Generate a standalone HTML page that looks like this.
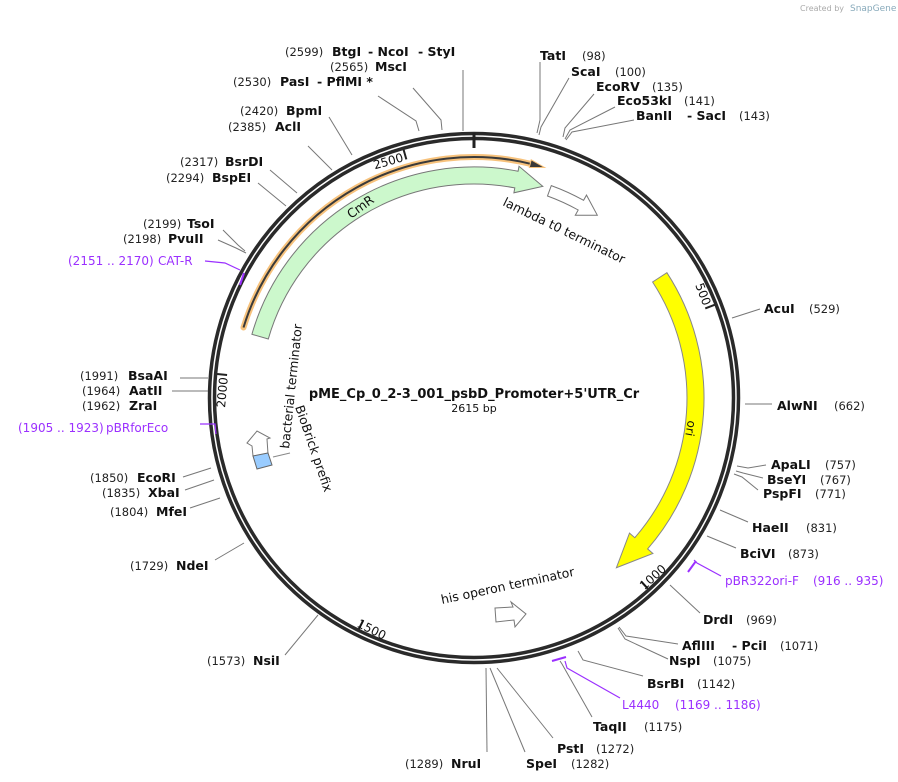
<!DOCTYPE html>
<html><head><meta charset="utf-8"><style>
html,body{margin:0;padding:0;background:#fff;}
svg{display:block;}
text{font-family:"DejaVu Sans","Liberation Sans",sans-serif;font-size:12px;fill:#111;}
.b{font-weight:bold;font-size:12.5px;}
.n{font-size:11.5px;fill:#222;}
.p{fill:#9b30ff;font-size:12px;}
.l{stroke:#777;stroke-width:1;fill:none;}
.pl{stroke:#9b30ff;stroke-width:1.2;fill:none;}
</style></head><body>
<svg id="s" width="898" height="782" viewBox="0 0 898 782" xmlns="http://www.w3.org/2000/svg">
<text x="800" y="11" style="font-size:8px;fill:#aaa">Created by</text>
<text x="850" y="11" style="font-size:9px;fill:#8ab">SnapGene</text>
<circle cx="474" cy="398" r="264.5" fill="none" stroke="#2a2a2a" stroke-width="3.5"/>
<circle cx="474" cy="398" r="259.5" fill="none" stroke="#2a2a2a" stroke-width="3.5"/>
<line x1="474" y1="133" x2="474" y2="148" stroke="#222" stroke-width="3"/>
<g id="dyn"></g>

<!-- lines -->
<polyline class="l" points="463,70 463,131"/>
<polyline class="l" points="413,88 441,120 442,130"/>
<polyline class="l" points="378,96 416,121 419,131"/>
<polyline class="l" points="329,117 352,155"/>
<polyline class="l" points="308,146 332,170"/>
<polyline class="l" points="270,170 297,193"/>
<polyline class="l" points="258,183 286,206"/>
<polyline class="l" points="223,230 238,245 245,251"/>
<polyline class="l" points="218,240 236,248 246,253"/>
<polyline class="pl" points="205,261 225,263 240,270"/>
<line x1="244" y1="273" x2="240" y2="285" stroke="#9b30ff" stroke-width="2"/>
<polyline class="l" points="180,378 208,378"/>
<polyline class="l" points="172,391 208,391"/>
<polyline class="pl" points="200,424 215,424 216,434"/>
<polyline class="l" points="183,477 211,468"/>
<polyline class="l" points="185,490 214,480"/>
<polyline class="l" points="190,508 220,498"/>
<polyline class="l" points="215,560 244,543"/>
<polyline class="l" points="285,655 318,615"/>
<polyline class="l" points="487,752 486,668"/>
<polyline class="l" points="525,752 490,668"/>
<polyline class="l" points="553,738 497,668"/>
<polyline class="l" points="592,717 562,664 560,661"/>
<polyline class="pl" points="620,698 567,668 565,661"/>
<line x1="552" y1="661" x2="566" y2="657" stroke="#9b30ff" stroke-width="2"/>
<polyline class="l" points="643,676 583,660 578,651"/>
<polyline class="l" points="668,659 625,639 618,628"/>
<polyline class="l" points="678,644 626,636 619,627"/>
<polyline class="l" points="700,613 670,585"/>
<polyline class="pl" points="721,576 697,563 694,560"/>
<line x1="688" y1="572" x2="696" y2="561" stroke="#9b30ff" stroke-width="2"/>
<polyline class="l" points="736,548 707,536"/>
<polyline class="l" points="748,522 720,510"/>
<polyline class="l" points="758,490 742,477 734,474"/>
<polyline class="l" points="763,478 743,473 736,471"/>
<polyline class="l" points="766,465 748,468 737,466"/>
<polyline class="l" points="772,404 745,404"/>
<polyline class="l" points="760,309 732,318"/>
<polyline class="l" points="540,62 540,120 537,133"/>
<polyline class="l" points="569,78 541,127 539,135"/>
<polyline class="l" points="594,94 565,128 563,137"/>
<polyline class="l" points="615,107 570,130 565,139"/>
<polyline class="l" points="634,120 572,132 566,140"/>

<!-- labels top -->
<text class="n" x="285" y="56">(2599)</text><text class="b" x="332" y="56">BtgI</text><text class="b" x="368" y="56">- NcoI</text><text class="b" x="418" y="56">- StyI</text>
<text class="n" x="330" y="71">(2565)</text><text class="b" x="375" y="71">MscI</text>
<text class="n" x="233" y="86">(2530)</text><text class="b" x="280" y="86">PasI</text><text class="b" x="317" y="86">- PflMI *</text>
<text class="n" x="240" y="115">(2420)</text><text class="b" x="286" y="115">BpmI</text>
<text class="n" x="228" y="131">(2385)</text><text class="b" x="275" y="131">AclI</text>
<text class="n" x="180" y="166">(2317)</text><text class="b" x="225" y="166">BsrDI</text>
<text class="n" x="166" y="182">(2294)</text><text class="b" x="212" y="182">BspEI</text>
<text class="n" x="143" y="228">(2199)</text><text class="b" x="187" y="228">TsoI</text>
<text class="n" x="123" y="243">(2198)</text><text class="b" x="168" y="243">PvuII</text>
<text class="p" x="68" y="265">(2151 .. 2170)</text><text class="p" x="158" y="265">CAT-R</text>
<!-- left -->
<text class="n" x="80" y="380">(1991)</text><text class="b" x="128" y="380">BsaAI</text>
<text class="n" x="82" y="395">(1964)</text><text class="b" x="129" y="395">AatII</text>
<text class="n" x="82" y="410">(1962)</text><text class="b" x="129" y="410">ZraI</text>
<text class="p" x="18" y="432">(1905 .. 1923)</text><text class="p" x="106" y="432">pBRforEco</text>
<text class="n" x="90" y="482">(1850)</text><text class="b" x="137" y="482">EcoRI</text>
<text class="n" x="102" y="497">(1835)</text><text class="b" x="148" y="497">XbaI</text>
<text class="n" x="110" y="516">(1804)</text><text class="b" x="156" y="516">MfeI</text>
<text class="n" x="130" y="570">(1729)</text><text class="b" x="176" y="570">NdeI</text>
<text class="n" x="207" y="665">(1573)</text><text class="b" x="253" y="665">NsiI</text>
<!-- bottom -->
<text class="n" x="405" y="768">(1289)</text><text class="b" x="451" y="768">NruI</text>
<text class="b" x="526" y="768">SpeI</text><text class="n" x="571" y="768">(1282)</text>
<text class="b" x="557" y="753">PstI</text><text class="n" x="596" y="753">(1272)</text>
<text class="b" x="593" y="731">TaqII</text><text class="n" x="644" y="731">(1175)</text>
<text class="p" x="622" y="709">L4440</text><text class="p" x="675" y="709">(1169 .. 1186)</text>
<text class="b" x="647" y="688">BsrBI</text><text class="n" x="697" y="688">(1142)</text>
<text class="b" x="669" y="665">NspI</text><text class="n" x="713" y="665">(1075)</text>
<text class="b" x="682" y="650">AflIII</text><text class="b" x="732" y="650">- PciI</text><text class="n" x="780" y="650">(1071)</text>
<text class="b" x="703" y="624">DrdI</text><text class="n" x="746" y="624">(969)</text>
<text class="p" x="725" y="585">pBR322ori-F</text><text class="p" x="813" y="585">(916 .. 935)</text>
<text class="b" x="740" y="558">BciVI</text><text class="n" x="788" y="558">(873)</text>
<text class="b" x="752" y="532">HaeII</text><text class="n" x="806" y="532">(831)</text>
<text class="b" x="763" y="498">PspFI</text><text class="n" x="815" y="498">(771)</text>
<text class="b" x="767" y="484">BseYI</text><text class="n" x="820" y="484">(767)</text>
<text class="b" x="771" y="469">ApaLI</text><text class="n" x="825" y="469">(757)</text>
<text class="b" x="777" y="410">AlwNI</text><text class="n" x="834" y="410">(662)</text>
<text class="b" x="764" y="313">AcuI</text><text class="n" x="809" y="313">(529)</text>
<text class="b" x="540" y="60">TatI</text><text class="n" x="582" y="60">(98)</text>
<text class="b" x="571" y="76">ScaI</text><text class="n" x="615" y="76">(100)</text>
<text class="b" x="596" y="91">EcoRV</text><text class="n" x="652" y="91">(135)</text>
<text class="b" x="617" y="105">Eco53kI</text><text class="n" x="684" y="105">(141)</text>
<text class="b" x="636" y="120">BanII</text><text class="b" x="687" y="120">- SacI</text><text class="n" x="739" y="120">(143)</text>

<!-- center -->
<text class="b" x="474" y="398" text-anchor="middle" style="font-size:13px">pME_Cp_0_2-3_001_psbD_Promoter+5'UTR_Cr</text>
<text x="474" y="412" text-anchor="middle" style="font-size:11px">2615 bp</text>

<!-- feature labels -->
<text transform="translate(502,205) rotate(26)" style="font-size:12.5px">lambda t0 terminator</text>
<text transform="translate(442,604) rotate(-12)" style="font-size:12.5px">his operon terminator</text>
<text transform="translate(351,219) rotate(-36)" style="font-size:12.5px">CmR</text>
<text transform="translate(688,420) rotate(100)" style="font-size:12px">ori</text>
<text transform="translate(289,449) rotate(-84)" style="font-size:12.5px">bacterial terminator</text>
<text transform="translate(295,407) rotate(71)" style="font-size:12.5px">BioBrick prefix</text>
<line x1="273" y1="457" x2="290" y2="453" stroke="#888"/>
<polygon points="247,443 257,431 270,438 267,439 268,454 253,456 252,446" fill="#fff" stroke="#777"/>
<polygon points="253,456 268,453 272,465 257,469" fill="#99ccff" stroke="#666"/>
<polygon points="495,608 513,607 511,602 526,614 515,627 514,620 496,622" fill="#fff" stroke="#777"/>
</svg>
<script>
(function(){
var cx=474,cy=398,g=document.getElementById('dyn'),NS='http://www.w3.org/2000/svg';
function P(r,t){t=t*Math.PI/180;return [cx+r*Math.sin(t),cy-r*Math.cos(t)];}
function f(p){return p[0].toFixed(1)+','+p[1].toFixed(1);}
function el(n,a){var e=document.createElementNS(NS,n);for(var k in a)e.setAttribute(k,a[k]);g.appendChild(e);return e;}
function arrow(r1,r2,t1,tb,tt,w,fill,stroke){
 var lg=(tb-t1)>180?1:0,rm=(r1+r2)/2;
 var d='M'+f(P(r2,t1))+' A'+r2+','+r2+' 0 '+lg+' 1 '+f(P(r2,tb))+' L'+f(P(r2+w,tb))+' L'+f(P(rm,tt))+' L'+f(P(r1-w,tb))+' L'+f(P(r1,tb))+' A'+r1+','+r1+' 0 '+lg+' 0 '+f(P(r1,t1))+' Z';
 el('path',{d:d,fill:fill,stroke:stroke,'stroke-width':1});
}
var d='M'+f(P(241,-73))+' A241,241 0 0 1 '+f(P(241,14.5));
el('path',{d:d,fill:'none',stroke:'#f7c27c','stroke-width':6,'stroke-linecap':'round'});
el('path',{d:d,fill:'none',stroke:'#3a3a3a','stroke-width':2});
el('path',{d:'M'+f(P(237,13.5))+' L'+f(P(241,17))+' L'+f(P(245,13.5))+' Z',fill:'#3a3a3a',stroke:'#f7c27c','stroke-width':1});
arrow(214,231,-74,11,18,5,'#ccf8cc','#777');
arrow(215,226,20,29,34,6,'#fff','#777');
arrow(213,230,57,131,140,7,'#ffff00','#888');
[500,1000,1500,2000,2500].forEach(function(p){
 var t=p/2615*360,a=P(258,t),b=P(248,t);
 el('line',{x1:a[0],y1:a[1],x2:b[0],y2:b[1],stroke:'#222','stroke-width':2});
 var top=(t<90||t>270),q,rot,anc;
 if(top){q=P(247,t-0.6);rot=t;anc='end';}else{q=P(257,t+0.8);rot=t-180;anc='start';}
 var tx=el('text',{transform:'translate('+f(q)+') rotate('+rot.toFixed(1)+')','text-anchor':anc,style:'font-size:12px'});
 tx.textContent=String(p);
});
})();
</script>
</body></html>
